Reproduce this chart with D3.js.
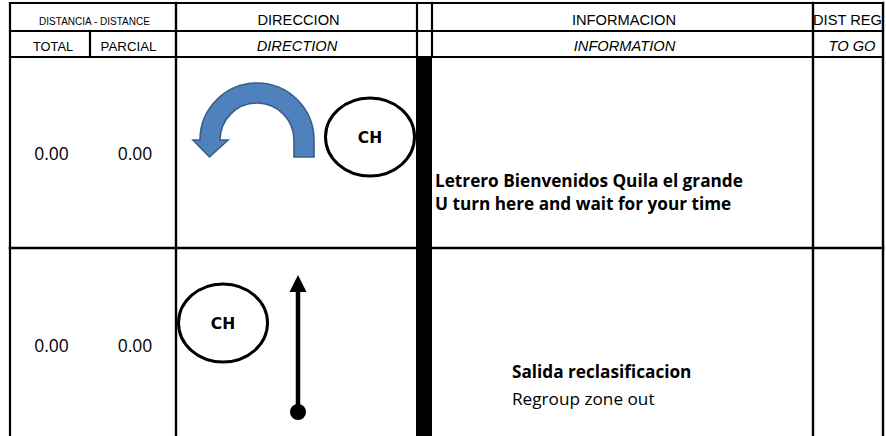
<!DOCTYPE html>
<html><head><meta charset="utf-8">
<script src="https://cdn.jsdelivr.net/npm/d3@7"></script>
<style>html,body{margin:0;padding:0;background:#fff;}svg{display:block;}</style>
</head><body>
<svg id="c" width="886" height="436"></svg>
<script>
// ---- data ----
const headerTop = ["DISTANCIA - DISTANCE", "DIRECCION", "INFORMACION", "DIST REG"];
const headerSub = ["TOTAL", "PARCIAL", "DIRECTION", "INFORMATION", "TO GO"];
const totals = ["0.00", "0.00"];
const partials = ["0.00", "0.00"];
const directions = ["uturn", "straight"];
const cpLabels = ["CH", "CH"];
const infoBold = ["Letrero Bienvenidos Quila el grande", "Salida reclasificacion"];
const infoSecond = ["U turn here and wait for your time", "Regroup zone out"];
const infoSecondBold = [true, false];

// ---- layout ----
const W = 886, H = 436;
const svg = d3.select("#c");
const xL = 10, xP = 90, xD = 176, xG1 = 417, xG2 = 432, xR = 813, xE = 883;
const yT = 3, y1 = 31, y2 = 57;
const rowY = d3.scaleOrdinal().domain([0, 1]).range([57, 248]);
const arial = "'Liberation Sans', Arial, sans-serif";
const body = "'Open Sans', 'Noto Sans', sans-serif";

// black separator bar
svg.append("rect").attr("x", 416).attr("y", y2).attr("width", 16).attr("height", H - y2).attr("fill", "#000");

const lines = [
  [xL, yT, xE, yT, 2.2], [xL, y1, xE, y1, 2.2], [xL, y2, xE, y2, 2.2],
  [xL, rowY(1), xE, rowY(1), 2.6],
  [xL, yT, xL, H, 2.2], [xP, y1, xP, y2, 2.2], [xD, yT, xD, H, 2.4],
  [xG1, yT, xG1, y2, 2.2], [xG2, yT, xG2, y2, 2.2],
  [xR, yT, xR, H, 2.4], [xE, yT, xE, H, 2.4]
];
svg.selectAll("line.grid").data(lines).join("line").attr("class", "grid")
  .attr("x1", d => d[0]).attr("y1", d => d[1]).attr("x2", d => d[2]).attr("y2", d => d[3])
  .attr("stroke", "#000").attr("stroke-width", d => d[4]).attr("stroke-linecap", "square");

// headers
const hTop = [
  {t: headerTop[0], x: 94.5, s: 10, a: "middle"},
  {t: headerTop[1], x: 298.5, s: 14.67, a: "middle"},
  {t: headerTop[2], x: 624, s: 14.67, a: "middle"},
  {t: headerTop[3], x: 813, s: 14.67, a: "start"}
];
svg.selectAll("text.ht").data(hTop).join("text").attr("class", "ht")
  .attr("x", d => d.x).attr("y", 24.5).attr("text-anchor", d => d.a)
  .attr("font-family", arial).attr("font-size", d => d.s).attr("fill", "#000").text(d => d.t);

const hSub = [
  {t: headerSub[0], x: 53, s: 12.8, i: false},
  {t: headerSub[1], x: 128.5, s: 13.3, i: false},
  {t: headerSub[2], x: 297, s: 14.67, i: true},
  {t: headerSub[3], x: 624.5, s: 14.67, i: true},
  {t: headerSub[4], x: 852, s: 14.67, i: true}
];
svg.selectAll("text.hs").data(hSub).join("text").attr("class", "hs")
  .attr("x", d => d.x).attr("y", 50.5).attr("text-anchor", "middle")
  .attr("font-family", arial).attr("font-size", d => d.s)
  .attr("font-style", d => d.i ? "italic" : "normal").attr("fill", "#000").text(d => d.t);

// rows
const rows = totals.map((t, i) => ({i, total: t, partial: partials[i], dir: directions[i], cp: cpLabels[i],
  b: infoBold[i], s: infoSecond[i], sb: infoSecondBold[i]}));

const g = svg.selectAll("g.row").data(rows).join("g").attr("class", "row")
  .attr("transform", d => `translate(0,${rowY(d.i)})`);

const numY = [103, 104];
g.append("text").attr("x", 51.5).attr("y", d => numY[d.i]).attr("text-anchor", "middle")
  .attr("font-family", body).attr("font-size", 17.5).attr("fill", "#000").text(d => d.total);
g.append("text").attr("x", 135).attr("y", d => numY[d.i]).attr("text-anchor", "middle")
  .attr("font-family", body).attr("font-size", 17.5).attr("fill", "#000").text(d => d.partial);

// information text
const infoPos = [{x: 435, y1: 130, y2: 153}, {x: 512, y1: 129.5, y2: 157}];
g.append("text").attr("x", d => infoPos[d.i].x).attr("y", d => infoPos[d.i].y1)
  .attr("font-family", body).attr("font-size", 17.2).attr("font-weight", "bold").attr("fill", "#000").text(d => d.b);
g.append("text").attr("x", d => infoPos[d.i].x).attr("y", d => infoPos[d.i].y2)
  .attr("font-family", body).attr("font-size", 17.2).attr("font-weight", d => d.sb ? "bold" : "normal")
  .attr("fill", "#000").text(d => d.s);

// direction icons
g.each(function(d) {
  const sel = d3.select(this);
  const cpPos = d.dir === "uturn" ? {x: 370, y: 80} : {x: 223, y: 75};
  sel.append("ellipse").attr("cx", cpPos.x).attr("cy", cpPos.y).attr("rx", 44.5).attr("ry", 39)
    .attr("fill", "#fff").attr("stroke", "#000").attr("stroke-width", 3);
  sel.append("text").attr("x", cpPos.x).attr("y", cpPos.y + 5.5).attr("text-anchor", "middle")
    .attr("font-family", "'DejaVu Sans', sans-serif").attr("font-weight", "bold").attr("font-size", 15.5)
    .attr("fill", "#000").text(d.cp);

  if (d.dir === "uturn") {
    const cx = 257, cy = 83, R = 57, r = 37;
    const p = d3.path();
    p.moveTo(cx + R, 100);
    p.lineTo(cx + R, cy);
    p.arc(cx, cy, R, 0, Math.PI, true);
    p.lineTo(193, cy);
    p.lineTo(209.5, 100);
    p.lineTo(228, cy);
    p.lineTo(cx - r, cy);
    p.arc(cx, cy, r, Math.PI, 2 * Math.PI, false);
    p.lineTo(cx + r, 100);
    p.closePath();
    sel.append("path").attr("d", p.toString()).attr("fill", "#4F81BD")
      .attr("stroke", "#385D8A").attr("stroke-width", 1.6).attr("stroke-linejoin", "miter");
  } else {
    const ax = 298;
    sel.append("line").attr("x1", ax).attr("y1", 164).attr("x2", ax).attr("y2", 42)
      .attr("stroke", "#000").attr("stroke-width", 4.5);
    const h = d3.path();
    h.moveTo(ax, 27); h.lineTo(ax - 8.5, 44); h.lineTo(ax + 8.5, 44); h.closePath();
    sel.append("path").attr("d", h.toString()).attr("fill", "#000");
    sel.append("circle").attr("cx", ax).attr("cy", 164).attr("r", 8).attr("fill", "#000");
  }
});
</script>
</body></html>
